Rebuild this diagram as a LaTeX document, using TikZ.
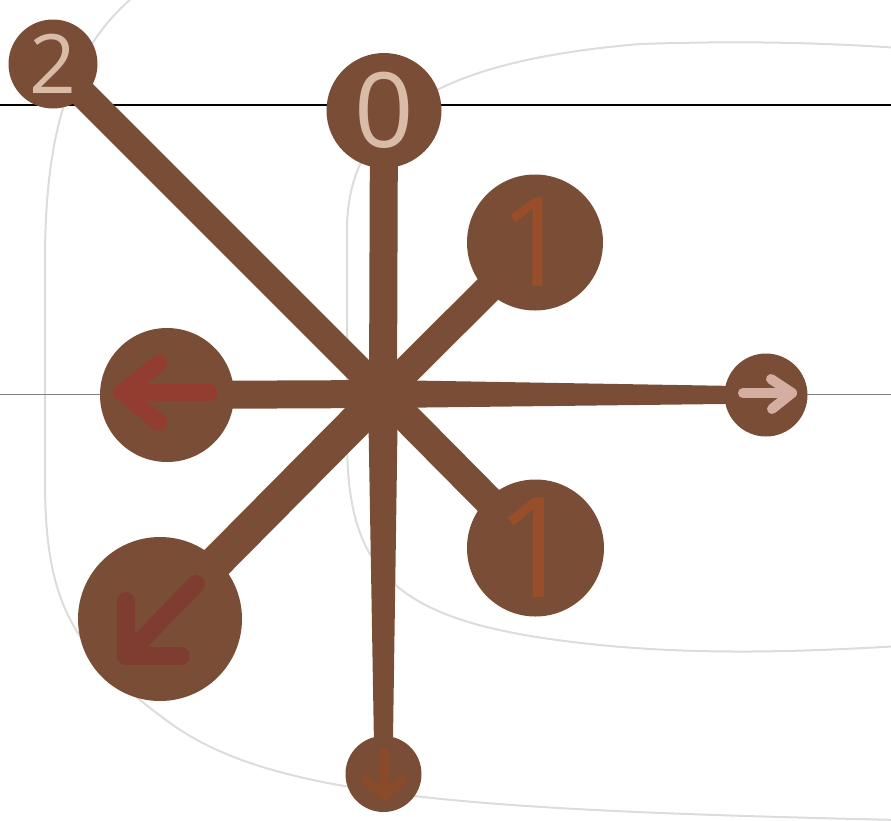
\documentclass[tikz,border=0pt]{standalone}
\usepackage{fontspec}
\setmainfont{Open Sans}
\usetikzlibrary{calc}
\definecolor{nodebrown}{HTML}{7A4E36}
\definecolor{curvegrey}{HTML}{DCDCDC}
\definecolor{lightdigit}{HTML}{D9BCA7}
\definecolor{onedigit}{HTML}{9A4D29}
\definecolor{leftred}{HTML}{933D30}
\definecolor{llred}{HTML}{7F3D31}
\definecolor{rightpink}{HTML}{D5AEA2}
\definecolor{downbrown}{HTML}{8A4B2B}
\tikzset{
  bubble/.style={circle, fill=nodebrown, inner sep=0pt, outer sep=0pt},
  guide/.style={draw=curvegrey, line width=1pt},
  glyph/.style={line width=#1, line cap=round, line join=round},
}
\newcommand{\drawspoke}[4]{%
  \fill[nodebrown] ($(#1)!#3!90:(#2)$) -- ($(#2)!#4!-90:(#1)$) -- ($(#2)!#4!90:(#1)$) -- ($(#1)!#3!-90:(#2)$) -- cycle;}
\begin{document}
\begin{tikzpicture}[x=0.5pt,y=-0.5pt]
\useasboundingbox (0,0) rectangle (891,821);
\clip (0,0) rectangle (891,821);
% background guide curves
\draw[guide] (170,-30) .. controls (90,20) and (45,90) .. (45,260) -- (45,480)
  .. controls (45,600) and (70,650) .. (170,723)
  .. controls (270,795) and (450,810) .. (900,820);
\draw[guide] (900,48) .. controls (840,44) and (760,40) .. (640,44)
  .. controls (450,60) and (347,110) .. (347,230) -- (347,440)
  .. controls (347,580) and (400,625) .. (600,645)
  .. controls (700,655) and (800,652) .. (900,646);
% reference lines
\draw[black, line width=0.6pt] (0,105) -- (891,105);
\draw[gray, line width=0.5pt] (0,394) -- (891,394);
% hub and nodes
\coordinate (hub) at (383,394);
\coordinate (c0) at (384,110.5);
\coordinate (c2) at (53,64);
\coordinate (cu) at (535,242.5);
\coordinate (cr) at (766,395);
\coordinate (cl) at (167,395);
\coordinate (cll) at (160,619);
\coordinate (cd) at (383.5,774);
\coordinate (cb) at (535.5,548);
% spokes
\drawspoke{hub}{c0}{7pt}{7pt}
\drawspoke{hub}{c2}{7pt}{7pt}
\drawspoke{hub}{cu}{7.25pt}{7.25pt}
\drawspoke{hub}{cr}{7pt}{4.25pt}
\drawspoke{hub}{cl}{7pt}{7pt}
\drawspoke{hub}{cll}{8.5pt}{8.5pt}
\drawspoke{hub}{cb}{7.5pt}{7.5pt}
\drawspoke{hub}{cd}{7.5pt}{4.5pt}
% nodes
\node[bubble, minimum size=115pt*0.5, text=lightdigit, font=\fontsize{52}{52}\selectfont] (n0) at (c0) {0};
\node[bubble, minimum size=89pt*0.5, text=lightdigit, font=\fontsize{41}{41}\selectfont] (n2) at (c2) {2};
\node[bubble, minimum size=136pt*0.5, text=onedigit, font=\fontsize{62}{62}\selectfont] (nu) at (cu) {1};
\node[bubble, minimum size=83pt*0.5] (nr) at (cr) {};
\node[bubble, minimum size=134pt*0.5] (nl) at (cl) {};
\node[bubble, minimum size=164pt*0.5] (nll) at (cll) {};
\node[bubble, minimum size=76pt*0.5] (nd) at (cd) {};
\node[bubble, minimum size=137pt*0.5, text=onedigit, font=\fontsize{70}{70}\selectfont] (nb) at (cb) {1};
% arrow glyphs
\draw[glyph=8.5pt, leftred] ([shift={(42,-2.5)}]nl.center) -- ([shift={(-45,-2.5)}]nl.center);
\draw[glyph=8.5pt, leftred] ([shift={(-8,-32)}]nl.center) -- ([shift={(-45,-2.5)}]nl.center) -- ([shift={(-8,27)}]nl.center);
\draw[glyph=9pt, llred] ([shift={(36,-35)}]nll.center) -- ([shift={(-34,37)}]nll.center);
\draw[glyph=9pt, llred] ([shift={(-34,-18)}]nll.center) -- ([shift={(-34,37)}]nll.center) -- ([shift={(21,37)}]nll.center);
\draw[glyph=5pt, rightpink] ([shift={(-23,-2)}]nr.center) -- ([shift={(26,-2)}]nr.center);
\draw[glyph=5pt, rightpink] ([shift={(5,-16)}]nr.center) -- ([shift={(26,-2)}]nr.center) -- ([shift={(6,14)}]nr.center);
\draw[glyph=4.5pt, downbrown] ([shift={(1,-22)}]nd.center) -- ([shift={(1,22)}]nd.center);
\draw[glyph=4.5pt, downbrown] ([shift={(-18,6)}]nd.center) -- ([shift={(1,22)}]nd.center) -- ([shift={(19,6)}]nd.center);
\end{tikzpicture}
\end{document}
